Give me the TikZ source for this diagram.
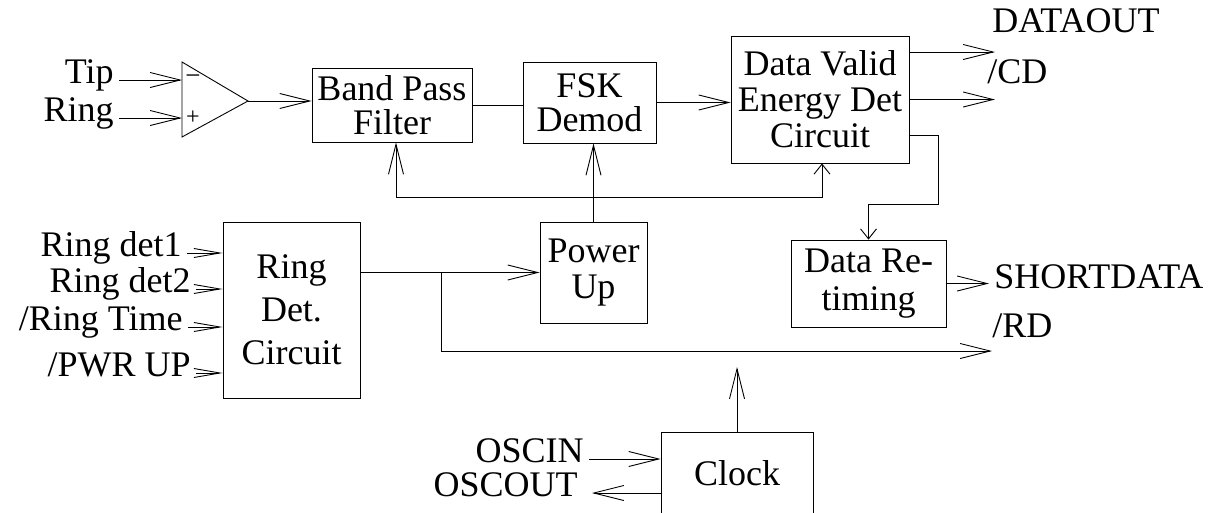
\documentclass[tikz,border=0pt]{standalone}
\usepackage{fontspec}
\setmainfont{Liberation Serif}
\usetikzlibrary{arrows.meta,calc}

\begin{document}
\begin{tikzpicture}[x=1pt,y=-1pt,line width=0.9pt,
    font=\fontsize{36}{36}\selectfont,
    blk/.style={draw,align=center,inner sep=0pt},
    lbl/.style={inner xsep=5pt,inner ysep=0pt,text height=0.66em,text depth=0pt},
    bigarr/.style={-{Straight Barb[length=30pt,width=15pt]}},
    smallarr/.style={-{Straight Barb[length=10pt,width=16pt]}},
    pinarr/.style={-{Straight Barb[length=26pt,width=9pt]}}]
  \useasboundingbox (0,0) rectangle (1227,512);

  \coordinate (ampA) at (182,62);
  \coordinate (ampB) at (182,137);
  \coordinate (ampout) at (248,101);
  \coordinate (ampin1) at (182,80);
  \coordinate (ampin2) at (182,118);
  \draw (ampA) -- (ampout) -- (ampB) -- cycle;
  \node[font=\fontsize{27}{27}\selectfont,inner sep=0pt] (minus) at (193,80) {−};
  \node[font=\fontsize{24}{24}\selectfont,inner sep=0pt] (plus) at (193,118) {+};

  \node[lbl,anchor=east] (tip) at (119,80) {Tip};
  \node[lbl,anchor=east] (ring) at (119,118) {Ring};
  \draw[bigarr] (tip.east) -- (ampin1);
  \draw[bigarr] (ring.east) -- (ampin2);

  \node[blk,minimum width=160pt,minimum height=74pt,font=\fontsize{36}{34}\selectfont] (bpf) at (392,105) {Band Pass\\Filter};
  \node[blk,minimum width=133pt,minimum height=81pt,font=\fontsize{36}{34}\selectfont] (fsk) at (589.5,102.5) {FSK\\Demod};
  \node[blk,minimum width=178pt,minimum height=127pt] (dv) at (820,99.5) {Data Valid\\Energy Det\\Circuit};
  \node[blk,minimum width=155pt,minimum height=87pt,font=\fontsize{36}{38}\selectfont] (dr) at (868.5,283.5) {Data Re-\\timing};
  \node[blk,minimum width=107pt,minimum height=101pt] (pu) at (593.5,272.5) {Power\\Up};
  \node[blk,minimum width=137pt,minimum height=176pt,font=\fontsize{36}{43}\selectfont] (rd) at (291.5,310) {Ring\\Det.\\Circuit};
  \node[blk,minimum width=152pt,minimum height=83pt] (clk) at (737,473.5) {Clock};

  \draw[bigarr] (ampout) -- (ampout -| bpf.west);
  \draw (bpf.east) -- (bpf.east -| fsk.west);
  \draw[bigarr] (fsk.east) -- (fsk.east -| dv.west);

  \coordinate (dataouttip) at (995,52);
  \coordinate (cdtip) at (995,99.5);
  \node[lbl,anchor=west] (dataout) at (987,29) {DATAOUT};
  \node[lbl,anchor=west] (cd) at (982,80) {/CD};
  \draw[bigarr] (dv.east |- dataouttip) -- (dataouttip);
  \draw[bigarr] (dv.east) -- (cdtip);

  \coordinate (fbturn) at (938,204);
  \draw[smallarr] (dv.east |- 0,135) -| (fbturn) -| (dr.north);

  \node[lbl,anchor=west] (short) at (989,285) {SHORTDATA};
  \draw[bigarr] (dr.east) -- (dr.east -| short.west);

  \coordinate (busL) at (396,197);
  \coordinate (busR) at (822,197);
  \draw (pu.north) -- (pu.north |- busL);
  \draw[bigarr] (busL) -- (busL |- bpf.south);
  \draw[bigarr] (pu.north) -- (pu.north |- fsk.south);
  \draw[smallarr] (busL) -| (busR |- dv.south);

  \node[lbl,anchor=east] (det1) at (187,253) {Ring det1};
  \node[lbl,anchor=east] (det2) at (196,289) {Ring det2};
  \node[lbl,anchor=east] (rtime) at (188,327) {/Ring Time};
  \node[lbl,anchor=east] (pwrup) at (196,373) {/PWR UP};
  \draw[pinarr] (det1.east) -- (rd.west |- det1.east);
  \draw[pinarr] (det2.east) -- (rd.west |- det2.east);
  \draw[pinarr] (rtime.east) -- (rd.west |- rtime.east);
  \draw[pinarr] (pwrup.east) -- (rd.west |- pwrup.east);

  \coordinate (rdj) at (441,0 |- pu.west);
  \coordinate (rdtip) at (992,351);
  \node[lbl,anchor=west] (rdl) at (987,334) {/RD};
  \draw[bigarr] (rd.east |- pu.west) -- (pu.west);
  \draw[bigarr] (rdj) |- (rdtip);

  \coordinate (clkup) at (737,367);
  \draw[bigarr] (clk.north) -- (clkup);
  \node[lbl,anchor=east] (oscin) at (589,459) {OSCIN};
  \node[lbl,anchor=east,inner xsep=14pt] (oscout) at (592,493) {OSCOUT};
  \draw[bigarr] (oscin.east) -- (clk.west |- oscin.east);
  \draw[bigarr] (clk.west |- oscout.east) -- (oscout.east);
\end{tikzpicture}
\end{document}
